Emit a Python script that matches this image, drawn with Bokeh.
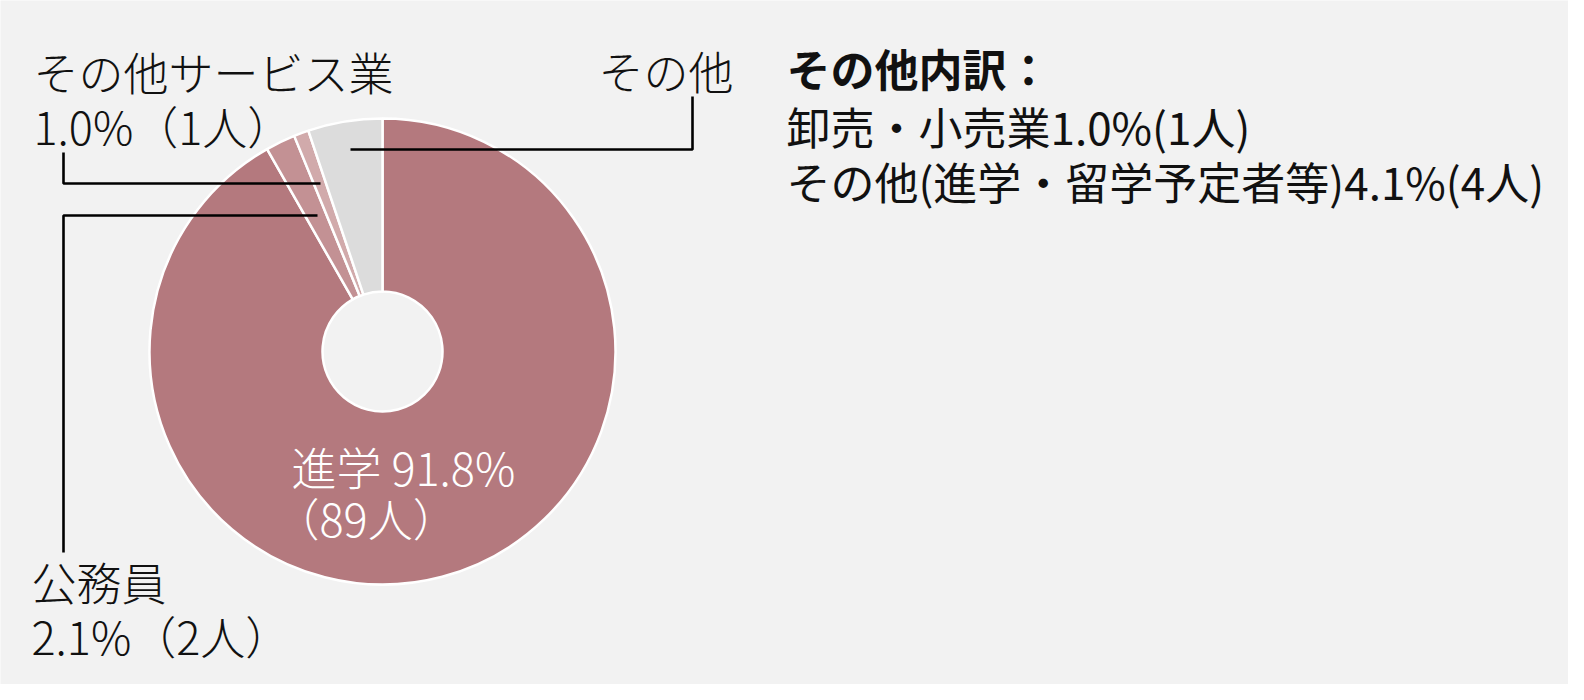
import math
from bokeh.plotting import figure
from bokeh.models import Range1d
from bokeh.core.properties import value
from bokeh.embed import file_html
from bokeh.resources import INLINE

# ---- data ----
categories = ["進学", "公務員", "その他サービス業", "その他"]
counts = [89, 2, 1, 5]
percents = [91.8, 2.1, 1.0, 5.1]
colors = ["#b4797e", "#c39194", "#d1aaab", "#dcdcdc"]

breakdown_title = "その他内訳："
breakdown_lines = ["卸売・小売業1.0%(1人)", "その他(進学・留学予定者等)4.1%(4人)"]

W, H = 1568, 684
FONT = "Noto Sans CJK JP Light, Noto Sans CJK JP"
FONT_B = "Noto Sans CJK JP"


def fy(Y):
    # screenshot pixel row -> data y
    return 700 - Y


p = figure(width=W, height=H, output_backend="svg", toolbar_location=None,
           x_range=Range1d(0, W), y_range=Range1d(16, 700),
           min_border=0, background_fill_color="#f2f2f2",
           border_fill_color="#f2f2f2", outline_line_color=None)
p.axis.visible = False
p.grid.visible = False

# ---- donut ----
cx, cy = 382, fy(351)
total = sum(counts)
starts, ends = [], []
acc = 0
for c in counts:
    starts.append(math.pi / 2 - 2 * math.pi * acc / total)
    acc += c
    ends.append(math.pi / 2 - 2 * math.pi * acc / total)

p.annular_wedge(x=cx, y=cy, inner_radius=60, outer_radius=233,
                start_angle=starts, end_angle=ends, direction="clock",
                fill_color=colors, line_color="white", line_width=2.5)

# ---- leader lines ----
lw = 2.6
p.line(x=[350, 692, 692], y=[fy(149), fy(149), fy(96)], line_color="black", line_width=lw)
p.line(x=[63, 63, 320], y=[fy(152), fy(183), fy(183)], line_color="black", line_width=lw)
p.line(x=[317, 63, 63], y=[fy(215), fy(215), fy(552)], line_color="black", line_width=lw)

fs = "45px"
dark = "#111111"

def label(x, Y, txt, color=dark, align="left", style="normal", size=fs, font=FONT):
    p.text(x=[x], y=[fy(Y)], text=[txt], text_font=value(font),
           text_font_size=size, text_color=color, text_align=align,
           text_baseline="middle", text_font_style=style)

# その他サービス業
label(33, 71, f"{categories[2]}")
label(33, 125, f"{percents[2]:.1f}%（{counts[2]}人）")
# 公務員
label(31, 581, f"{categories[1]}")
label(31, 635, f"{percents[1]:.1f}%（{counts[1]}人）")
# その他
label(733, 70, categories[3], align="right")
# 進学 (inside)
label(291, 466, f"{categories[0]} {percents[0]:.1f}%", color="white")
label(274, 517, f"（{counts[0]}人）", color="white")

# breakdown
label(786, 67, breakdown_title, style="bold", size="44px", font=FONT_B)
label(786, 125, breakdown_lines[0], size="44px", font=FONT_B)
label(786, 180, breakdown_lines[1], size="44px", font=FONT_B)

open("out.html", "w").write(file_html(p, INLINE))
